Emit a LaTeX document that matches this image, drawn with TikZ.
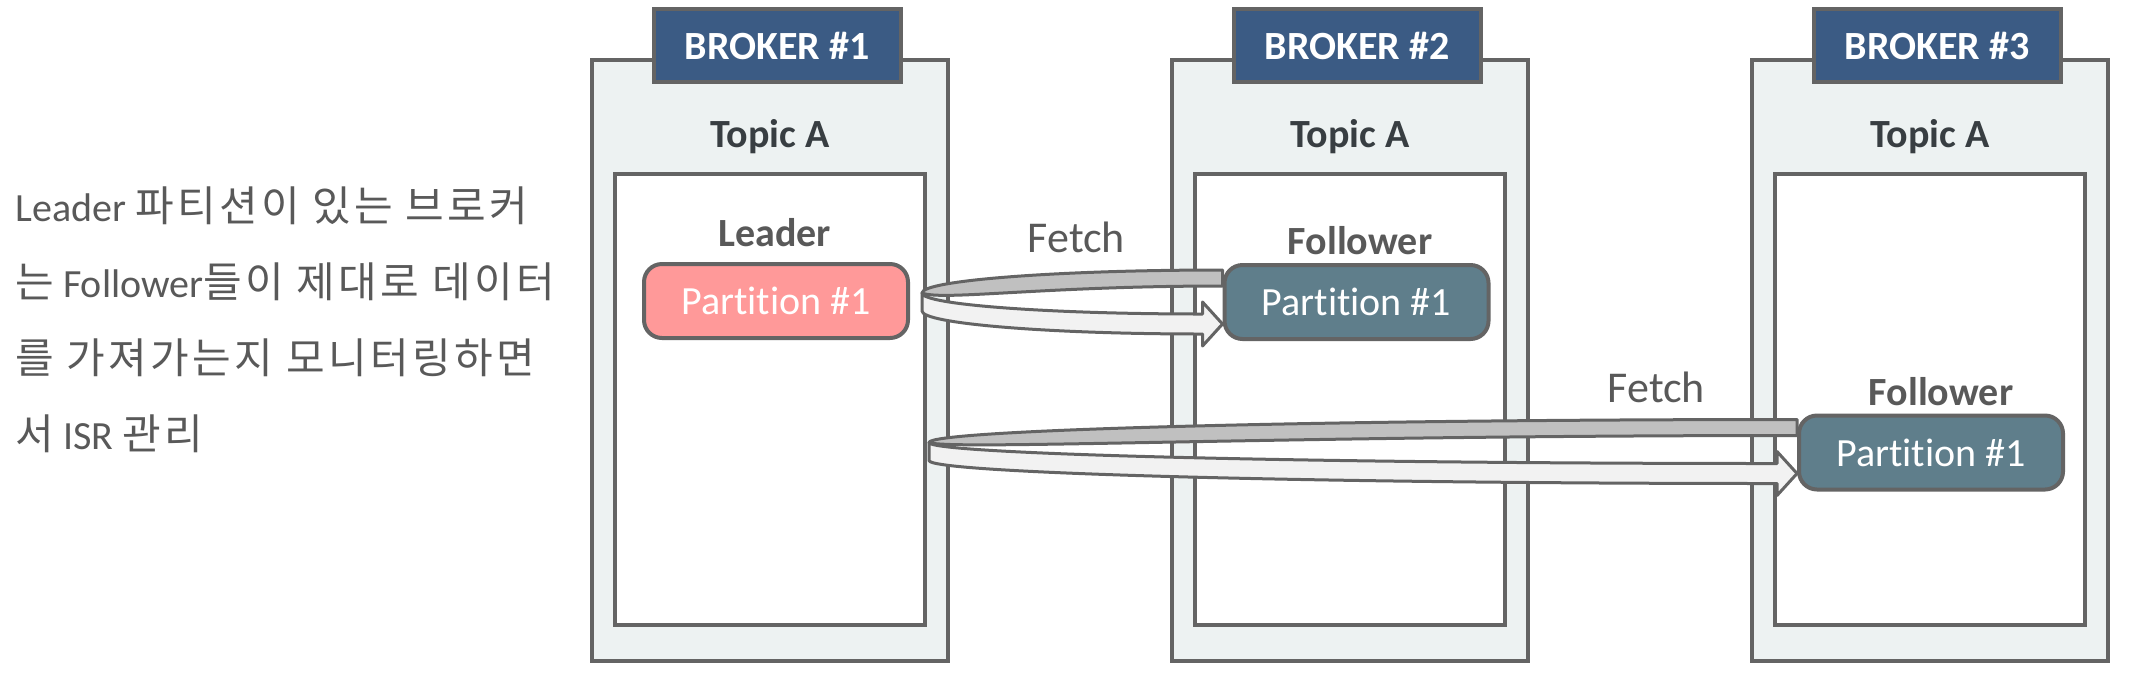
\documentclass[tikz,border=0pt]{standalone}
\usepackage{fontspec}
\setmainfont{Carlito}[Ligatures=NoCommon]
\newfontfamily\kr{Noto Sans CJK KR}[Scale=1.05, LetterSpace=8]
\usetikzlibrary{calc}

\definecolor{linegray}{RGB}{100,100,100}
\definecolor{brokerfill}{RGB}{237,242,242}
\definecolor{headerblue}{RGB}{59,91,132}
\definecolor{leaderred}{RGB}{255,153,153}
\definecolor{followerblue}{RGB}{95,126,139}
\definecolor{topicgray}{RGB}{56,62,66}
\definecolor{labelgray}{RGB}{89,89,89}
\definecolor{backgray}{RGB}{192,192,192}
\definecolor{frontgray}{RGB}{242,242,242}

% u-turn fetch arrow: #1 start coordinate, #2 target node
\newcommand{\fetcharrow}[2]{%
  \filldraw[backband] let \p1=(#1), \p2=(#2.west) in
    (\x2,{\y1+11.5pt})
    .. controls ({\x2-0.55*(\x2-\x1)},{\y1+11.5pt}) and (\x1,{\y1+6.3pt}) .. (\x1,\y1)
    .. controls ({\x1+10pt},{\y1-4pt}) and ({\x2-0.6*(\x2-\x1)},{\y1+3.5pt}) .. (\x2,{\y1+3.5pt})
    -- cycle;
  \filldraw[frontband] let \p1=(#1), \p2=(#2.west) in
    (\x1,\y1)
    .. controls (\x1,{\y1-5.8pt}) and ({\x2-10pt-0.55*(\x2-10pt-\x1)},{\y1-10.5pt}) .. ({\x2-10pt},{\y1-10.5pt})
    -- ({\x2-10pt},{\y1-4.5pt}) -- (\x2,{\y1-15.5pt}) -- ({\x2-10pt},{\y1-26.5pt})
    -- ({\x2-10pt},{\y1-20.5pt})
    .. controls ({\x2-10pt-0.55*(\x2-10pt-\x1)},{\y1-20.5pt}) and (\x1,{\y1-15.3pt}) .. (\x1,{\y1-9pt})
    -- cycle;
}

\begin{document}
\begin{tikzpicture}[x=0.5pt, y=-0.5pt,
  brokerbox/.style={rectangle, draw=linegray, line width=2pt, fill=brokerfill,
    minimum width=178pt, minimum height=300.5pt},
  brokerhead/.style={rectangle, draw=linegray, line width=2pt, fill=headerblue,
    text=white, font=\bfseries\fontsize{20}{24}\selectfont,
    minimum width=123.5pt, minimum height=36.5pt},
  innerbox/.style={rectangle, draw=linegray, line width=2pt, fill=white,
    minimum width=155pt, minimum height=225.5pt},
  partbox/.style={rectangle, rounded corners=9pt, draw=linegray, line width=2pt,
    fill=#1, text=white, font=\fontsize{20}{24}\selectfont,
    minimum width=132pt, minimum height=37pt},
  topiclabel/.style={anchor=base, text=topicgray, font=\bfseries\fontsize{20}{24}\selectfont},
  rolelabel/.style={anchor=base, text=labelgray, font=\bfseries\fontsize{20}{24}\selectfont},
  fetchlabel/.style={anchor=base, text=labelgray, font=\fontsize{22}{26}\selectfont},
  note/.style={anchor=base west, align=left, inner sep=0pt, text=labelgray,
    font=\fontsize{20}{38}\selectfont},
  backband/.style={fill=backgray, draw=linegray, line width=1.5pt, line join=round},
  frontband/.style={fill=frontgray, draw=linegray, line width=1.5pt, line join=round}
]
\useasboundingbox (0,0) rectangle (2152,682);

% brokers
\node[brokerbox] (b1) at (770,360.5) {};
\node[brokerbox] (b2) at (1350,360.5) {};
\node[brokerbox] (b3) at (1930,360.5) {};
\node[brokerhead] (h1) at (777,45.5) {BROKER \#1};
\node[brokerhead] (h2) at (1357,45.5) {BROKER \#2};
\node[brokerhead] (h3) at (1937,45.5) {BROKER \#3};
\node[topiclabel] (t1) at (770,147) {Topic A};
\node[topiclabel] (t2) at (1350,147) {Topic A};
\node[topiclabel] (t3) at (1930,147) {Topic A};
\node[innerbox] (in1) at (770,399.5) {};
\node[innerbox] (in2) at (1350,399.5) {};
\node[innerbox] (in3) at (1930,399.5) {};

% partitions
\node[rolelabel] (r1) at (774.5,246) {Leader};
\node[partbox=leaderred] (leader) at (776,301) {Partition \#1};
\node[rolelabel] (r2) at (1360,254) {Follower};
\node[partbox=followerblue] (f2) at (1356.5,302) {Partition \#1};
\node[rolelabel] (r3) at (1941,405) {Follower};
\node[partbox=followerblue] (f3) at (1931,452.5) {Partition \#1};

% fetch arrows
\coordinate (s1) at ($(leader.east |- f2.west)+(12,-9)$);
\coordinate (s2) at ($(in1.east |- f3.west)+(2,-10)$);
\fetcharrow{s1}{f2}
\fetcharrow{s2}{f3}
\node[fetchlabel] (fetch1) at (1076.5,252) {Fetch};
\node[fetchlabel] (fetch2) at (1656.5,402) {Fetch};

% base west sits on the last line
\node[note] (isr) at (15,449) {Leader {\kr 파티션이 있는 브로커}\\
  {\kr 는} Follower{\kr 들이 제대로 데이터}\\
  {\kr 를 가져가는지 모니터링하면}\\
  {\kr 서} ISR {\kr 관리}};
\end{tikzpicture}
\end{document}
